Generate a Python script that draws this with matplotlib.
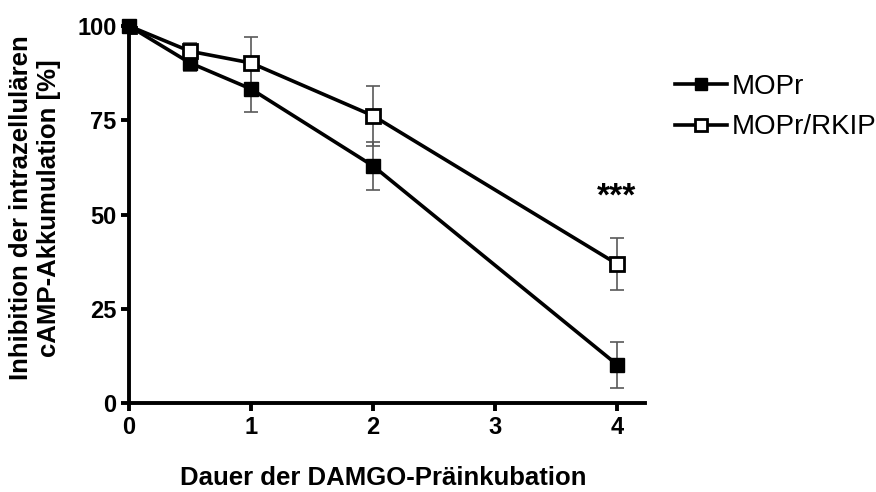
import matplotlib
matplotlib.use("Agg")
import matplotlib.pyplot as plt

# Dauer der DAMGO-Präinkubation
time = [0, 0.5, 1, 2, 4]
mopr = [100, 90.2, 83.3, 62.9, 10.2]
mopr_err = [0, 2.2, 6.0, 6.3, 6.1]
rkip = [100, 93.3, 90.2, 76.2, 36.9]
rkip_err = [0, 2.3, 7.0, 8.0, 6.9]

plt.rcParams["font.family"] = ["Liberation Sans", "DejaVu Sans"]

W, H = 876, 492
fig = plt.figure(figsize=(W / 100, H / 100), dpi=100)
ax = fig.add_axes([129 / W, 1 - 403 / H, 516 / W, 377 / H])

ekw = dict(ecolor="0.35", elinewidth=1.2, capsize=5, capthick=1.2)
ax.errorbar(time, mopr, yerr=mopr_err, fmt="none", zorder=2, **ekw)
ax.errorbar(time, rkip, yerr=rkip_err, fmt="none", zorder=2, **ekw)
ax.plot(time, mopr, "-s", color="black", lw=2.6, ms=10, mfc="black",
        mec="black", label="MOPr", zorder=3)
ax.plot(time, rkip, "-s", color="black", lw=2.6, ms=10, mfc="white",
        mec="black", mew=2, label="MOPr/RKIP", zorder=4)
# at t=0 both start at 100 %, the filled square sits on top
ax.plot(time[:1], mopr[:1], "s", color="black", ms=10, zorder=5, clip_on=False)

ax.text(4, 54.7, "***", ha="center", va="center", fontsize=24, fontweight="bold")

ax.set_xlim(0, 4.23)
ax.set_ylim(0, 100)
ax.set_xticks([0, 1, 2, 3, 4])
ax.set_yticks([0, 25, 50, 75, 100])
for s in ["top", "right"]:
    ax.spines[s].set_visible(False)
for s in ["left", "bottom"]:
    ax.spines[s].set_linewidth(2.8)
ax.tick_params(width=2.8, length=6, labelsize=17, pad=3)
for lab in ax.get_xticklabels() + ax.get_yticklabels():
    lab.set_fontweight("bold")

fig.text(383 / W, 1 - 478 / H, "Dauer der DAMGO-Präinkubation", ha="center",
         va="center", fontsize=18.5, fontweight="bold")
fig.text(35 / W, 1 - 208 / H,
         "Inhibition der intrazellulären\ncAMP-Akkumulation [%]",
         rotation=90, ha="center", va="center", multialignment="center",
         fontsize=18.5, fontweight="bold", linespacing=1.25)

leg = fig.legend(loc="upper left", bbox_to_anchor=(675 / W, 1 - 74 / H),
                 frameon=False, fontsize=20, handlelength=1.86,
                 handletextpad=0.2, labelspacing=0.52, borderpad=0,
                 borderaxespad=0, markerscale=0.9)

fig.savefig("out.png", dpi=100)
